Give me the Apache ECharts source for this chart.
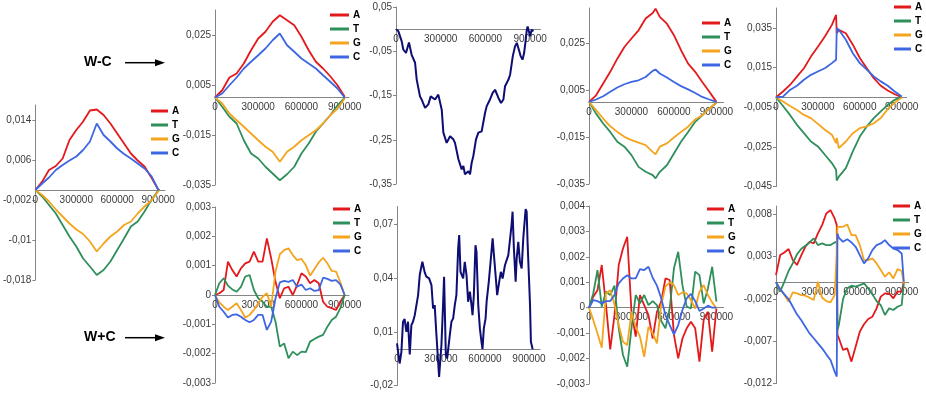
<!DOCTYPE html>
<html>
<head>
<meta charset="utf-8">
<script src="https://cdn.jsdelivr.net/npm/echarts@6/dist/echarts.min.js"></script>
<style>
    html, body { margin: 0; padding: 0; background: #fff; }
    #chart { width: 926px; height: 395px; }
</style>
</head>
<body>
<div id="chart"></div>
<script>
    // 碱基名称与坐标刻度
    var bases = ['A', 'T', 'G', 'C'];
    var xTicks = [0, 300000, 600000, 900000];

    // 左侧面板
    var p0x = [0, 50000, 100000, 150000, 200000, 250000, 300000, 350000, 400000, 450000, 500000, 550000, 600000, 650000, 700000, 750000, 800000, 850000, 900000, 910000];
    var p0A = [0, .00167, .004, .0048, .0063, .01, .012, .0137, .0159, .0161, .015, .0133, .0113, .0093, .0073, .0059, .0047, .0025, .0001, 0];
    var p0T = [0, -.0013, -.003, -.0047, -.007, -.0093, -.0113, -.0137, -.0153, -.017, -.016, -.0143, -.012, -.0097, -.0073, -.0063, -.0043, -.002, -.0001, 0];
    var p0G = [0, -.001, -.0023, -.0039, -.0053, -.0067, -.0079, -.0088, -.0103, -.0123, -.0107, -.0093, -.0083, -.007, -.0063, -.0047, -.0033, -.0021, -.0003, 0];
    var p0C = [0, .0013, .0025, .004, .005, .0059, .0067, .008, .0097, .0133, .011, .0097, .0083, .0072, .0063, .0053, .0043, .0028, .0001, 0];
    var p0Ticks = [-0.018, -0.01, -0.002, 0.006, 0.014];

    // 上排 W-C
    var p1x = [0, 50000, 100000, 150000, 200000, 250000, 300000, 350000, 400000, 450000, 500000, 550000, 600000, 650000, 700000, 750000, 800000, 850000, 900000];
    var p1A = [0, .0029, .008, .0096, .0136, .0189, .0236, .0263, .0303, .0329, .0309, .0289, .0243, .0189, .0143, .0116, .0085, .0049, .0003];
    var p1T = [0, -.0037, -.0077, -.0104, -.0171, -.0224, -.0244, -.0277, -.0304, -.0331, -.0307, -.0277, -.0224, -.0184, -.0137, -.0104, -.0071, -.0031, -.0001];
    var p1G = [0, -.0024, -.0064, -.0091, -.0117, -.0144, -.0171, -.0197, -.0217, -.0257, -.0217, -.0197, -.0171, -.0151, -.0131, -.0104, -.0071, -.0044, -.0004];
    var p1C = [0, .0016, .0049, .008, .0116, .0143, .0169, .0196, .0229, .0256, .0209, .0183, .0156, .0136, .0116, .0089, .0063, .0036, 0];
    var p1Ticks = [-0.035, -0.015, 0.005, 0.025];

    var p2x = [0, 16000, 38000, 49000, 67000, 87000, 105000, 128000, 139000, 161000, 172000, 195000, 217000, 233000, 262000, 284000, 307000, 318000, 340000, 363000, 385000, 396000, 419000, 441000, 452000, 463000, 486000, 497000, 508000, 519000, 537000, 553000, 575000, 598000, 609000, 631000, 649000, 665000, 687000, 705000, 721000, 732000, 755000, 766000, 784000, 799000, 811000, 837000, 849000, 860000, 871000, 878000, 884000, 900000, 911000, 922000];
    var p2y = [0, -.005, -.027, -.046, -.054, -.030, -.058, -.076, -.114, -.152, -.159, -.178, -.170, -.152, -.159, -.148, -.182, -.234, -.257, -.242, -.249, -.257, -.294, -.317, -.309, -.328, -.321, -.328, -.302, -.287, -.249, -.234, -.231, -.189, -.174, -.159, -.144, -.137, -.155, -.167, -.159, -.129, -.114, -.103, -.061, -.039, -.031, -.061, -.069, -.054, -.024, -.001, .006, -.016, -.001, -.005];
    var p2Ticks = [-0.35, -0.25, -0.15, -0.05, 0.05];

    var p3x = [0, 50000, 100000, 150000, 200000, 250000, 300000, 350000, 400000, 450000, 470000, 500000, 550000, 600000, 650000, 700000, 750000, 800000, 850000, 900000];
    var p3A = [0, .0028, .0078, .0128, .0184, .0234, .027, .0305, .0355, .0379, .0397, .0362, .0333, .0284, .022, .0163, .0128, .0085, .0043, 0];
    var p3T = [0, -.005, -.0092, -.0128, -.017, -.0191, -.0227, -.0277, -.0298, -.0312, -.0326, -.0298, -.027, -.022, -.017, -.0128, -.0085, -.0057, -.0028, -.0004];
    var p3G = [0, -.0035, -.0071, -.0104, -.0128, -.0149, -.0163, -.0174, -.0184, -.0213, -.0223, -.0191, -.0177, -.0152, -.0128, -.0106, -.0075, -.0057, -.0028, -.0004];
    var p3C = [0, .001, .0024, .0043, .0061, .0075, .0085, .0092, .0106, .0132, .0138, .0121, .0104, .0085, .0067, .0053, .0038, .0021, .001, 0];
    var p3Ticks = [-0.035, -0.015, 0.005, 0.025];

    var p4x = [0, 50000, 100000, 150000, 200000, 250000, 300000, 350000, 400000, 430000, 435000, 450000, 500000, 550000, 600000, 650000, 700000, 750000, 800000, 850000, 900000];
    var p4A = [0, .0029, .0062, .0104, .0146, .0205, .0255, .0306, .0365, .0415, .0323, .034, .0323, .0265, .0198, .0146, .0096, .0058, .0034, .0015, 0];
    var p4T = [0, -.0044, -.0089, -.0139, -.0181, -.0223, -.0248, -.029, -.0332, -.0366, -.042, -.04, -.0357, -.0273, -.0198, -.0147, -.0105, -.0071, -.0038, -.0013, .0004];
    var p4G = [0, -.0021, -.0044, -.0064, -.0089, -.0105, -.0134, -.0164, -.0189, -.0231, -.0205, -.0257, -.0223, -.0181, -.0156, -.0147, -.0131, -.0105, -.006, -.0027, -.0001];
    var p4C = [0, .0003, .0037, .0058, .0088, .0113, .013, .0146, .0172, .0189, .0348, .034, .029, .0222, .0172, .0139, .0105, .008, .0058, .0029, .0004];
    var p4Ticks = [-0.045, -0.025, -0.005, 0.015, 0.035];

    // 下排 W+C
    var p5x = [0, 30000, 60000, 90000, 120000, 150000, 180000, 210000, 240000, 270000, 300000, 330000, 360000, 390000, 420000, 450000, 480000, 510000, 540000, 570000, 600000, 630000, 660000, 690000, 720000, 750000, 780000, 810000, 840000, 870000, 900000];
    var p5A = [0, .00006, .00017, .00114, .00085, .00063, .00091, .00108, .00114, .00148, .00114, .00114, .00193, .00125, .00045, -.00011, .00023, .00028, 0, .00034, .00074, .00063, .0004, .00051, .0004, -.00023, -.0004, -.00045, -.00051, -.00023, 0];
    var p5T = [0, .0004, .00057, .00032, .00019, .00011, .00028, .00063, .00068, .00017, -.00011, -.00023, -.0004, -.0004, -.00091, -.00176, -.00165, -.00216, -.00193, -.00205, -.00193, -.00195, -.00159, -.0015, -.00142, -.00136, -.00108, -.00085, -.00074, -.00045, 0];
    var p5G = [0, -.00025, -.0004, -.00051, -.0004, -.00028, -.00051, -.00077, -.00068, -.00051, -.00028, -.00006, .00006, -.0004, .0008, .00139, .00153, .00159, .00136, .00119, .00123, .00102, .00066, .00089, .00111, .00127, .00108, .00082, .0008, .00043, 0];
    var p5C = [0, -.0004, -.00057, -.00077, -.00068, -.00066, -.00074, -.00085, -.00093, -.00085, -.00068, -.00068, -.00119, -.00091, -.00011, .00043, .00048, .00045, .00051, .00028, .00036, .00017, .00023, .00014, .00017, .00059, .00055, .00048, .00051, .00036, 0];
    var p5Ticks = [-0.003, -0.002, -0.001, 0, 0.001, 0.002, 0.003];

    var p6x = [0, 18000, 30000, 41000, 52000, 64000, 75000, 87000, 98000, 109000, 121000, 144000, 155000, 173000, 189000, 200000, 219000, 235000, 246000, 257000, 269000, 287000, 303000, 314000, 321000, 333000, 342000, 360000, 371000, 383000, 394000, 405000, 417000, 424000, 433000, 451000, 462000, 474000, 485000, 497000, 508000, 515000, 524000, 535000, 542000, 554000, 565000, 576000, 583000, 592000, 604000, 611000, 626000, 638000, 652000, 661000, 674000, 683000, 697000, 708000, 720000, 736000, 747000, 759000, 781000, 788000, 797000, 809000, 816000, 827000, 838000, 850000, 861000, 877000, 884000, 891000, 900000, 907000, 913000, 925000];
    var p6y = [.0035, -.0077, -.0012, .0156, .0171, .01, .0156, -.0027, .0137, .0156, .0193, .0305, .0417, .0491, .0432, .0408, .0398, .0361, .023, .0249, .0081, -.0152, .0026, .0249, .0408, -.003, -.0049, .0081, .0156, .0175, .0249, .0305, .0566, .064, .0435, .0398, .0491, .0417, .0268, .0324, .0249, .0193, .0305, .0584, .0547, .0249, .0119, .0044, .0003, .0119, .0175, .0268, .038, .0491, .0622, .0528, .0398, .0305, .038, .0435, .0398, .0472, .0472, .0528, .0696, .0771, .0566, .038, .051, .0603, .0491, .0454, .0622, .0786, .0771, .0584, .0398, .0249, .0044, .0003];
    var p6Ticks = [-0.02, 0.01, 0.04, 0.07];

    var p7x = p5x;
    var p7A = [0, .00043, .00069, .00168, .0001, -.00164, -.00029, .00168, .00233, .00279, -.00016, -.00114, .0005, .0001, -.00029, -.00121, -.00016, .00024, .00115, .00109, -.00107, -.00199, -.00121, -.00081, -.00055, -.00081, -.00212, -.00048, -.00016, -.00173, -.00003];
    var p7T = [0, .00056, .00148, .00004, .00063, .0005, .00087, -.00081, -.00186, -.00232, -.00081, .0005, .00017, .0005, .0001, .00026, .0001, -.00052, -.00081, -.00003, .00155, .0022, .00089, .00004, -.00003, .00142, .00128, .00017, .00076, .00161, .00024];
    var p7G = [0, -.00048, -.00101, -.00157, .00056, .00069, .00013, -.00068, -.00134, -.00147, -.00016, -.00075, -.00114, -.00193, -.00075, -.00101, -.0014, .0001, .00083, .001, .00089, .0005, .0006, .00056, .0003, -.00003, .00063, .00089, .0005, .00021, -.00003];
    var p7C = [0, .0003, .00026, .00017, .00026, .00026, .0005, .00096, .00115, .00128, .00115, .00115, .00152, .00148, .00161, .00118, .00087, .00037, -.00029, -.00068, -.00105, -.00068, -.00009, .00037, .00054, .00026, -.00013, -.00003, .00008, 0, 0];
    var p7Ticks = [-0.003, -0.002, -0.001, 0, 0.001, 0.002, 0.003, 0.004];

    var p8x = [0, 30000, 60000, 90000, 120000, 150000, 180000, 210000, 240000, 270000, 300000, 330000, 360000, 390000, 420000, 435000, 440000, 450000, 480000, 510000, 540000, 570000, 600000, 630000, 660000, 690000, 720000, 750000, 780000, 810000, 840000, 870000, 900000, 915000];
    var p8A = [.00083, .0032, .00351, .00391, .00261, .00202, .00312, .00418, .00477, .00457, .00576, .00674, .00812, .00851, .00753, .00674, -.00625, -.00664, -.00802, -.00783, -.0094, -.00763, -.00586, -.00499, -.00436, -.00409, -.00311, -.00172, -.00133, -.00133, -.00192, -.00113, -.00113, .00005];
    var p8T = [0, -.00113, .00005, .00131, .00221, .00328, .00391, .0043, .00469, .00517, .00438, .00457, .00438, .00438, .00469, .00477, -.00566, -.00507, -.002, -.00074, -.00043, -.00054, -.00035, -.00015, -.00074, -.00145, -.00224, -.00271, -.00389, -.0031, -.0033, -.00291, -.00271, -.00015];
    var p8G = [0, -.00083, -.00153, -.00231, -.00122, -.00133, -.00153, -.00161, -.00184, -.00212, .00005, -.00184, -.00224, -.00239, -.00153, .0036, .00654, .00674, .00654, .00682, .00556, .00556, .00438, .0026, .0026, .0028, .00221, .00143, .00064, .00115, .00044, .00154, .00131, -.00015];
    var p8C = [0, -.00083, -.00145, -.002, -.00291, -.00381, -.00448, -.00527, -.00606, -.00664, -.00724, -.00783, -.00854, -.0092, -.01058, -.01117, .00576, .00524, .00477, .00508, .00469, .00418, .0032, .00221, .0028, .00379, .00438, .00457, .00497, .00438, .00398, .00379, .00339, .00005];
    var p8Ticks = [-0.012, -0.007, -0.002, 0.003, 0.008];

    var baseColor = { A: '#e3191c', T: '#2f8f5b', G: '#f4a41d', C: '#3e66e3' };
    var navy = '#0d0d73';
    var font = 'Arial, "Liberation Sans", sans-serif';

    // 各面板的位置（像素）与坐标范围
    var panels = [
        { box: [30, 105, 135, 175], xMax: 950000, y: [-0.018, 0.017], ticks: p0Ticks, xs: p0x, lines: [p0A, p0T, p0G, p0C], legend: [151, 104, 17] },
        { box: [215, 10, 134, 175], xMax: 930000, y: [-0.035, 0.035], ticks: p1Ticks, xs: p1x, lines: [p1A, p1T, p1G, p1C], legend: [330, 8, 19] },
        { box: [396, 7, 144.5, 177], xMax: 970000, y: [-0.35, 0.05], ticks: p2Ticks, xs: p2x, single: p2y },
        { box: [589, 8, 134.5, 176], xMax: 950000, y: [-0.035, 0.04], ticks: p3Ticks, xs: p3x, lines: [p3A, p3T, p3G, p3C], legend: [702, 16, 18] },
        { box: [776, 8, 130.6, 178.5], xMax: 935000, y: [-0.045, 0.045], ticks: p4Ticks, xs: p4x, lines: [p4A, p4T, p4G, p4C], legend: [894, 0, 17] },
        { box: [215, 207, 134, 176], xMax: 930000, y: [-0.003, 0.003], ticks: p5Ticks, xs: p5x, lines: [p5A, p5T, p5G, p5C], legend: [333, 202, 17] },
        { box: [397, 206.5, 143, 179], xMax: 975000, y: [-0.02, 0.08], ticks: p6Ticks, xs: p6x, single: p6y },
        { box: [589, 206, 134.5, 178], xMax: 950000, y: [-0.003, 0.004], ticks: p7Ticks, xs: p7x, lines: [p7A, p7T, p7G, p7C], legend: [707, 202, 17] },
        { box: [776, 206, 132.7, 177.6], xMax: 950000, y: [-0.012, 0.009], ticks: p8Ticks, xs: p8x, lines: [p8A, p8T, p8G, p8C], legend: [893, 199, 17] }
    ];

    var pairs = function (xs, ys) {
        return xs.map(function (x, i) { return [x, ys[i]]; });
    };
    var comma = function (v) {
        return String(parseFloat(v.toPrecision(6))).replace('.', ',');
    };

    var grid = [], xAxis = [], yAxis = [], series = [], legend = [];
    panels.forEach(function (p, i) {
        grid.push({ left: p.box[0], top: p.box[1], width: p.box[2], height: p.box[3] });
        // x 轴放在 y=0 处：从网格底边向上移
        var lift = p.box[3] * (0 - p.y[0]) / (p.y[1] - p.y[0]);
        xAxis.push({
            type: 'value', gridIndex: i, min: 0, max: p.xMax,
            offset: -lift,
            axisLine: { onZero: false, lineStyle: { color: '#858585', width: 1 } },
            axisTick: { show: false },
            splitLine: { show: false },
            axisLabel: {
                customValues: xTicks, fontSize: 10, color: '#3a3a3a', fontFamily: font, margin: 5,
                formatter: function (v) { return String(v); }
            }
        });
        yAxis.push({
            type: 'value', gridIndex: i, min: p.y[0], max: p.y[1],
            axisLine: { show: true, onZero: false, lineStyle: { color: '#858585', width: 1 } },
            axisTick: { show: true, customValues: p.ticks, length: 3, lineStyle: { color: '#858585' } },
            splitLine: { show: false },
            axisLabel: { customValues: p.ticks, fontSize: 10, color: '#3a3a3a', fontFamily: font, margin: 4, formatter: comma }
        });
        if (p.single) {
            series.push({
                type: 'line', xAxisIndex: i, yAxisIndex: i, data: pairs(p.xs, p.single),
                showSymbol: false, color: navy, lineStyle: { color: navy, width: 2 }
            });
        } else {
            p.lines.forEach(function (ys, j) {
                var b = bases[j];
                series.push({
                    name: b, type: 'line', xAxisIndex: i, yAxisIndex: i, data: pairs(p.xs, ys),
                    showSymbol: false, color: baseColor[b], lineStyle: { color: baseColor[b], width: 1.8 }
                });
            });
            legend.push({
                orient: 'vertical', left: p.legend[0], top: p.legend[1], data: bases,
                icon: 'rect', itemWidth: p.legend[2], itemHeight: 3, itemGap: 0,
                selectedMode: false, padding: 0,
                textStyle: { fontSize: 10, fontWeight: 'bold', color: '#000', fontFamily: font, lineHeight: 14, padding: [0, 0, 0, -1] }
            });
        }
    });

    // 左侧的 W-C / W+C 标注
    var arrow = function (y) {
        return [
            { type: 'line', shape: { x1: 125, y1: y, x2: 156, y2: y }, style: { stroke: '#000', lineWidth: 1.5 } },
            { type: 'polygon', shape: { points: [[155, y - 3.5], [165, y], [155, y + 3.5]] }, style: { fill: '#000' } }
        ];
    };
    var graphic = [
        { type: 'text', left: 84, top: 55, style: { text: 'W-C', fontSize: 14, fontWeight: 'bold', fill: '#000', fontFamily: font } },
        { type: 'text', left: 84, top: 330, style: { text: 'W+C', fontSize: 14, fontWeight: 'bold', fill: '#000', fontFamily: font } }
    ].concat(arrow(62.7), arrow(337.7));

    var myChart = echarts.init(document.getElementById('chart'));
    myChart.setOption({
        animation: false,
        backgroundColor: '#fff',
        grid: grid,
        xAxis: xAxis,
        yAxis: yAxis,
        legend: legend,
        series: series,
        graphic: graphic
    });
</script>
</body>
</html>
